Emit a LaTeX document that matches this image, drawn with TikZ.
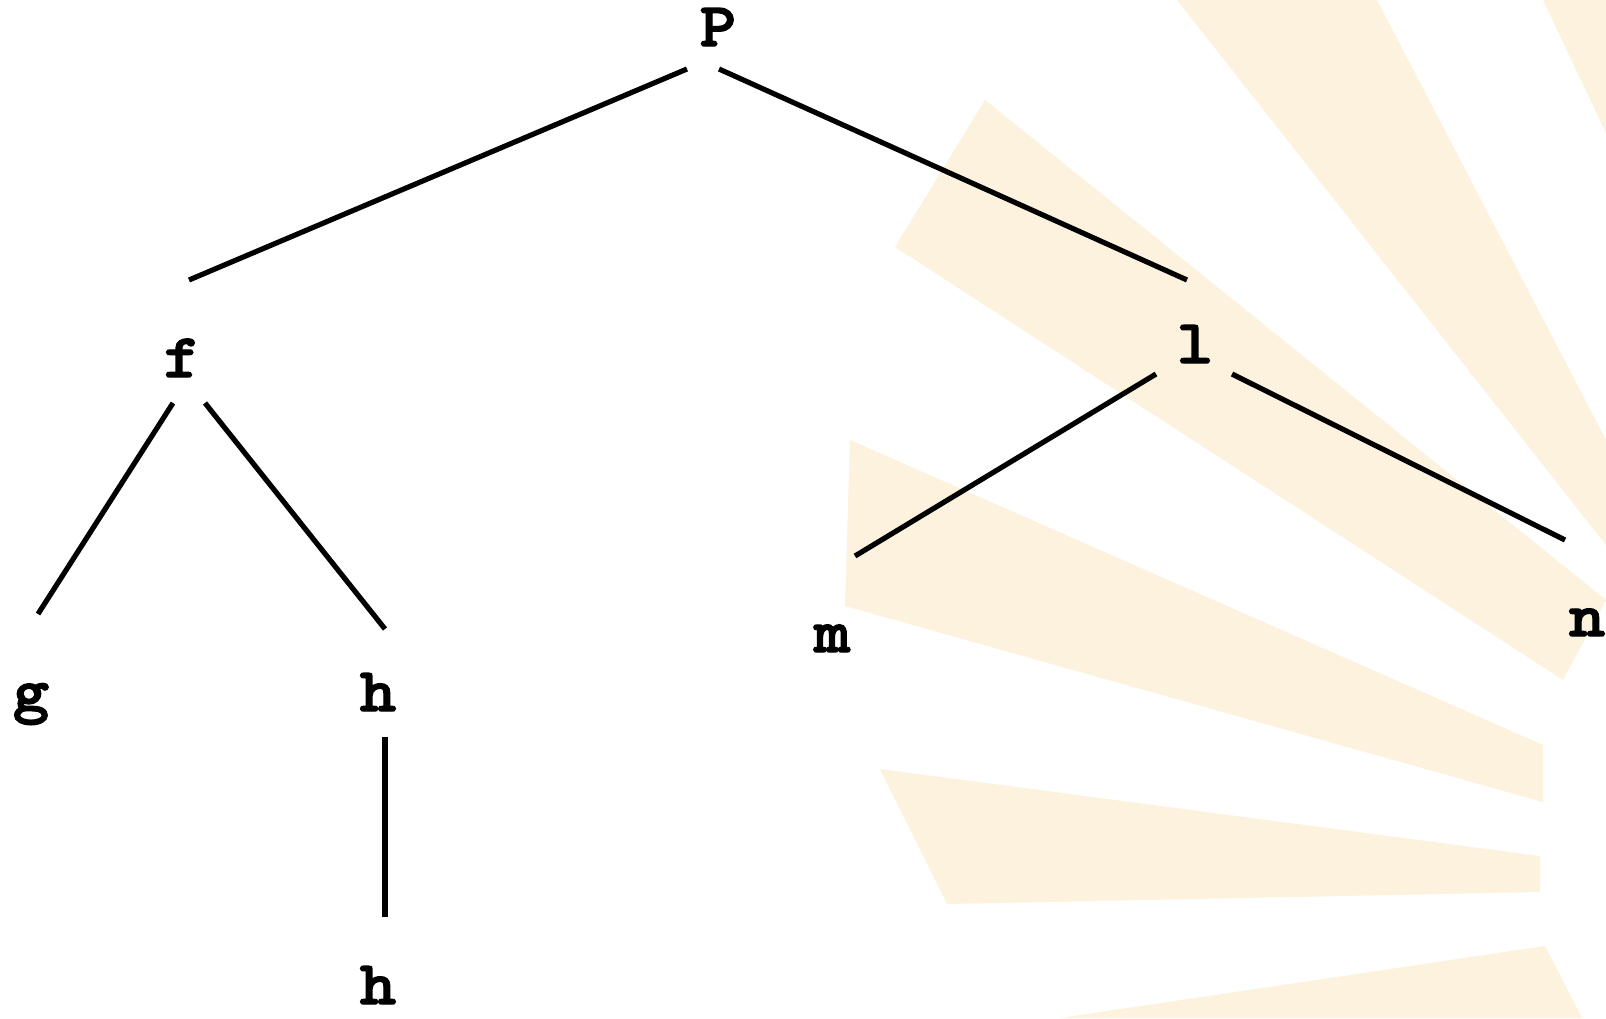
\documentclass[tikz,border=0pt]{standalone}
\usepackage{fontspec}
\newfontfamily\courbf{lmmonolt10-bold.otf}[FakeBold=2.2,FakeStretch=1.12]
\definecolor{raycol}{RGB}{253,242,222}
\begin{document}
\begin{tikzpicture}[x=1pt,y=-1pt,
  lbl/.style={font=\courbf\fontsize{62}{72}\selectfont, inner sep=0pt, anchor=base},
  edge/.style={line width=5.2pt},
  ray/.style={fill=raycol, draw=none}]
\useasboundingbox (0,0) rectangle (1606,1018);
\fill[white] (0,0) rectangle (1606,1018);
% background rays
\fill[ray] (1177,0) -- (1377,0) -- (1606,440) -- (1606,545) -- cycle;
\fill[ray] (1543,0) -- (1606,0) -- (1606,133) -- cycle;
\fill[ray] (985,100) -- (1606,600) -- (1563,680) -- (895,247) -- cycle;
\fill[ray] (850,440) -- (1543,745) -- (1543,802) -- (845,606) -- cycle;
\fill[ray] (880,769) -- (1540,856) -- (1540,892) -- (947,904) -- cycle;
\fill[ray] (1060,1018) -- (1545,946) -- (1582,1018) -- cycle;
% nodes
\node[lbl] (P) at (718,46) {P};
\node[lbl] (f) at (182,377) {f};
\node[lbl] (l) at (1195,363) {l};
\node[lbl] (g) at (31,711) {g};
\node[lbl] (h) at (378,711) {h};
\node[lbl] (m) at (832,652) {m};
\node[lbl] (n) at (1587,636) {n};
\node[lbl] (h2) at (378,1004) {h};
% connector ends
\coordinate (Pa) at (687,69);   \coordinate (fa) at (189,280);
\coordinate (Pb) at (719,69);   \coordinate (la) at (1187,280);
\coordinate (fb) at (173,403);  \coordinate (ga) at (38,614);
\coordinate (fc) at (205,403);  \coordinate (ha) at (385,629);
\coordinate (lb) at (1156,374); \coordinate (ma) at (855,556);
\coordinate (lc) at (1232,374); \coordinate (na) at (1565,540);
\coordinate (hb) at (385,737);  \coordinate (h2a) at (385,917);
% connectors
\draw[edge] (Pa) -- (fa);
\draw[edge] (Pb) -- (la);
\draw[edge] (fb) -- (ga);
\draw[edge] (fc) -- (ha);
\draw[edge] (lb) -- (ma);
\draw[edge] (lc) -- (na);
\draw[edge] (hb) -- (h2a);
\end{tikzpicture}
\end{document}
